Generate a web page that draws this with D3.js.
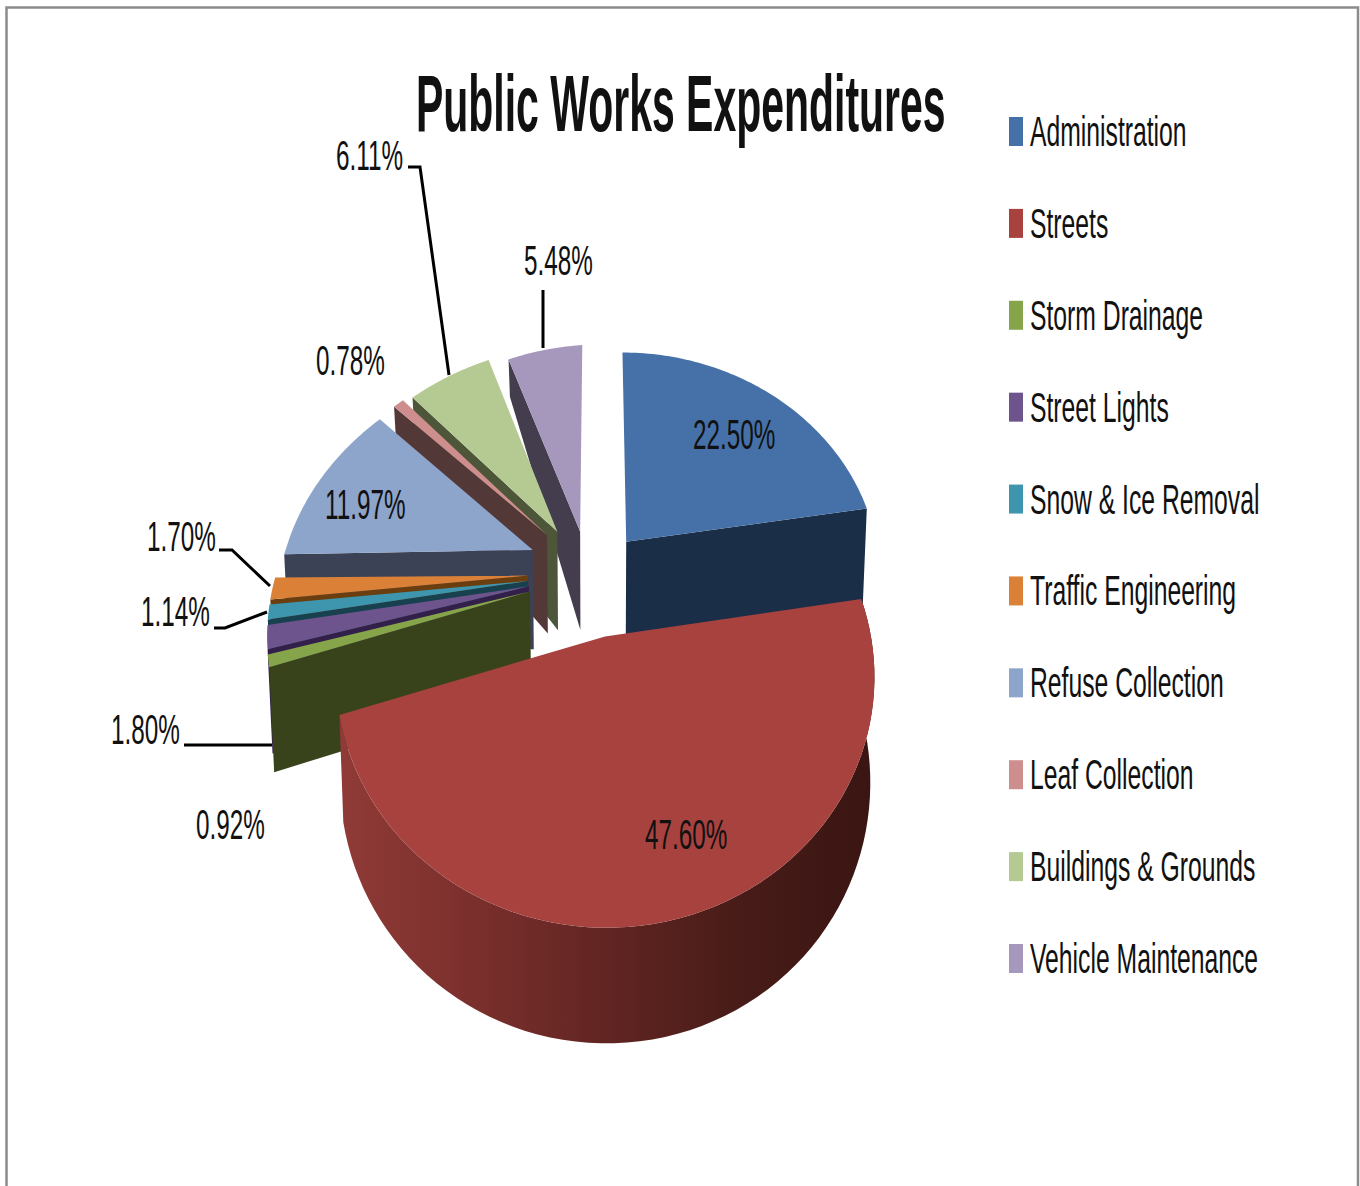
<!DOCTYPE html>
<html>
<head>
<meta charset="utf-8">
<script src="https://cdnjs.cloudflare.com/ajax/libs/d3/7.8.5/d3.min.js"></script>
<style>
  html, body { margin: 0; padding: 0; background: #fff; }
  svg { display: block; }
  text { font-family: "Liberation Sans", Arial, sans-serif; fill: #111; }
</style>
</head>
<body>
<svg id="chart" width="1360" height="1186"></svg>
<script>
const chartTitle = "Public Works Expenditures";
const categories = ["Administration", "Streets", "Storm Drainage", "Street Lights", "Snow & Ice Removal",
  "Traffic Engineering", "Refuse Collection", "Leaf Collection", "Buildings & Grounds", "Vehicle Maintenance"];
const shares = [22.50, 47.60, 0.92, 1.80, 1.14, 1.70, 11.97, 0.78, 6.11, 5.48];
const explosion = [0.18, 0.275, 0.27, 0.27, 0.27, 0.27, 0.28, 0.27, 0.25, 0.2];
const explosionSwing = [0, 7, 0, 0, 0, 0, 0, -5, -9, -10];
const topColors = ["#4571a8", "#a8423f", "#86a44a", "#6e548d", "#3d96ae", "#da8137", "#8ea5cb", "#ce8e8d", "#b5ca92", "#a598bc"];
const sideColors = ["#1a2e47", "#4a1c19", "#38431c", "#33204a", "#17414f", "#6b3e10", "#3b4256", "#533838", "#4d5638", "#433d4e"];

const svg = d3.select("#chart");

// Frame around the chart area
svg.append("path").attr("d", "M6.5,1186V7.5H1358V1186")
  .attr("fill", "none").attr("stroke", "#8c8c8c").attr("stroke-width", 2.5);

// Oblique view of the pie: east-west is x, near-far is y (near is positive)
const cam = { cx: 597, cy: 572, radiusX: 255, radiusY: 226, persp: 0.15, taper: 0.985 };
const wallHeight = d3.scaleLinear().domain([-1.3, -0.3, 1.3]).range([25, 97, 116]);
// The western side of the view sags; the sag fades out toward the viewer
const westSag = d3.scaleLinear().domain([-0.2, 0.6]).range([-14, 0]).clamp(true);

function project(x, y, bottom) {
  const s = 1 / (1 - cam.persp * y);
  let px = cam.cx + cam.radiusX * x * s;
  let py = cam.cy + cam.radiusY * y * s + westSag(y) * Math.min(x, 0);
  if (bottom) {
    px = cam.cx + (px - cam.cx) * cam.taper;
    py += wallHeight(y);
  }
  return [px, py];
}

const pie = d3.pie().sort(null).value(d => d);
const slices = pie(shares).map((d, i) => {
  const mid = (d.startAngle + d.endAngle) / 2;
  const bearing = mid + explosionSwing[i] * Math.PI / 180;
  return {
    index: i,
    start: d.startAngle,
    end: d.endAngle,
    mid,
    ox: explosion[i] * Math.sin(bearing),
    oy: -explosion[i] * Math.cos(bearing)
  };
});

const rimPoint = (sl, angle, bottom) =>
  project(sl.ox + Math.sin(angle), sl.oy - Math.cos(angle), bottom);
const apexPoint = (sl, bottom) => project(sl.ox, sl.oy, bottom);
const arcAngles = sl => d3.range(0, 1.0001, 1 / 72).map(t => sl.start + (sl.end - sl.start) * t);
const outline = d3.line().curve(d3.curveLinear);

// Gradient that shades the curved outer wall of the largest slice
const grad = svg.append("defs").append("linearGradient")
  .attr("id", "streetsWall").attr("gradientUnits", "userSpaceOnUse")
  .attr("x1", 345).attr("x2", 870).attr("y1", 0).attr("y2", 0);
[[0, "#8f3a36"], [0.25, "#7a2f2c"], [0.55, "#5c2320"], [0.75, "#481c18"], [1, "#3a1512"]]
  .forEach(([o, c]) => grad.append("stop").attr("offset", o).attr("stop-color", c));

// Back-to-front painting order
const paintOrder = [9, 8, 7, 6, 0, 5, 4, 3, 2, 1];
const pieLayer = svg.append("g");

paintOrder.forEach(i => {
  const sl = slices[i];
  const g = pieLayer.append("g");
  const angles = arcAngles(sl);
  if (i === 1) {
    const top = angles.map(a => rimPoint(sl, a, false));
    const bottom = angles.map(a => rimPoint(sl, a, true)).reverse();
    g.append("path").attr("d", outline(top.concat(bottom)) + "Z").attr("fill", "url(#streetsWall)");
  } else {
    const faceAngle = sl.mid < Math.PI ? sl.end : sl.start;
    const face = [apexPoint(sl, false), rimPoint(sl, faceAngle, false), rimPoint(sl, faceAngle, true), apexPoint(sl, true)];
    g.append("path").attr("d", outline(face) + "Z").attr("fill", sideColors[i]);
  }
  const topFace = [apexPoint(sl, false)].concat(angles.map(a => rimPoint(sl, a, false)));
  g.append("path").attr("d", outline(topFace) + "Z").attr("fill", topColors[i]);
});

// Condensed text: the installed sans is narrowed horizontally
function label(parent, str, x, y, size, squeeze, weight) {
  return parent.append("text")
    .attr("transform", `translate(${x},${y}) scale(${squeeze},1)`)
    .attr("font-size", size)
    .attr("font-weight", weight || "normal")
    .text(str);
}

label(svg, chartTitle, 416, 131, 80, 0.512, "bold");

// Value labels and their leader lines
const fmt = d => d3.format(".2f")(d) + "%";
const valueLayer = svg.append("g");
const labelPlace = [[693, 449], [645, 849], [196, 839], [111, 744], [141, 626], [147, 551], [325, 519], [316, 375], [336, 170], [524, 275]];
shares.forEach((v, i) => label(valueLayer, fmt(v), labelPlace[i][0], labelPlace[i][1], 43, 0.565));

const leaders = [
  [[408, 167], [420, 167], [449, 375]],
  [[543, 290], [543, 348]],
  [[219, 550], [232, 550], [270, 586]],
  [[214, 628], [225, 628], [267, 612]],
  [[184, 745], [272, 745]]
];
valueLayer.selectAll("path.leader").data(leaders).join("path")
  .attr("class", "leader")
  .attr("d", d => outline(d))
  .attr("fill", "none").attr("stroke", "#000").attr("stroke-width", 3);

// Legend
const legendRow = d3.scalePoint().domain(categories).range([132, 959]);
const legend = svg.append("g");
categories.forEach((c, i) => {
  const yc = legendRow(c);
  legend.append("rect").attr("x", 1009).attr("y", yc - 15).attr("width", 14).attr("height", 29).attr("fill", topColors[i]);
  label(legend, c, 1030, yc + 14, 43, 0.575);
});
</script>
</body>
</html>
